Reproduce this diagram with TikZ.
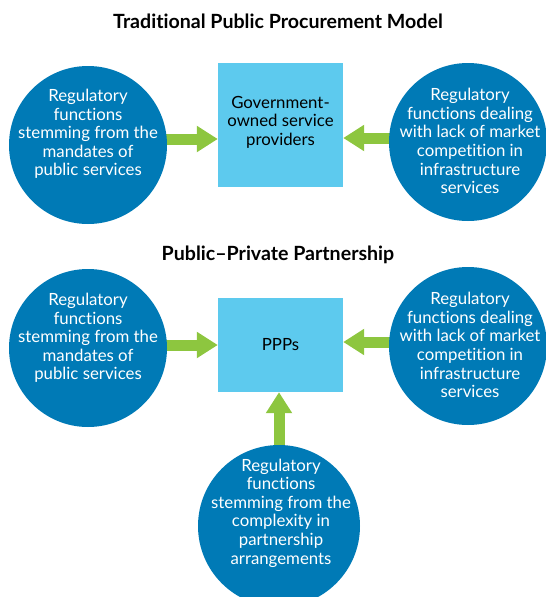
\documentclass[tikz,border=0pt]{standalone}
\usepackage{fontspec}
\setmainfont{Lato}[Ligatures={NoCommon}]
\usetikzlibrary{arrows.meta,backgrounds,calc}
\definecolor{circblue}{RGB}{0,122,182}
\definecolor{boxblue}{RGB}{93,202,238}
\definecolor{arrgreen}{RGB}{141,198,63}
\tikzset{
  circ/.style={circle,fill=circblue,minimum size=158pt,inner sep=0pt},
  ctext/.style={text=white,align=center,font=\fontsize{16.8}{18.6}\selectfont},
  sqbox/.style={rectangle,fill=boxblue,inner sep=0pt},
  btext/.style={text=black,align=center,font=\fontsize{16.8}{18.6}\selectfont},
  ttl/.style={text=black,font=\fontsize{19.6}{22}\selectfont\bfseries},
  garrow/.style={draw=arrgreen,line width=11pt,-{Triangle[length=21pt,width=25pt,fill=arrgreen]}}
}
\begin{document}
\begin{tikzpicture}[x=1pt,y=-1pt]
\useasboundingbox (0,0) rectangle (546,597);
% titles
\node[ttl] (t1) at (278,21) {Traditional Public Procurement Model};
\node[ttl] (t2) at (278,255) {Public–Private Partnership};
% top section
\node[sqbox,minimum width=125pt,minimum height=124pt] (box1) at (280.5,125) {};
\node[btext] (box1t) at (280.5,122) {Government-\\owned service\\providers};
\node[circ] (l1) at (88,145) {};
\node[ctext] (l1t) at (88,134) {Regulatory\\functions\\stemming from the\\mandates of\\public services};
\node[circ] (r1) at (468,142) {};
\node[ctext] (r1t) at (470,141) {Regulatory\\functions dealing\\with lack of market\\competition in\\infrastructure\\services};
% bottom section
\node[sqbox,minimum width=125pt,minimum height=94pt] (box2) at (280.5,345) {};
\node[btext] (box2t) at (280.5,345) {PPPs};
\node[circ] (l2) at (88,348) {};
\node[ctext] (l2t) at (88,338) {Regulatory\\functions\\stemming from the\\mandates of\\public services};
\node[circ] (r2) at (468,346) {};
\node[ctext] (r2t) at (470,345) {Regulatory\\functions dealing\\with lack of market\\competition in\\infrastructure\\services};
\node[circ,minimum size=162pt] (b2) at (279,526) {};
\node[ctext] (b2t) at (281,513) {Regulatory\\functions\\stemming from the\\complexity in\\partnership\\arrangements};
% arrows
\begin{scope}[on background layer]
\draw[garrow] ([yshift=6pt]l1.center) -- ([yshift=6pt]l1.center -| box1.west);
\draw[garrow] ([yshift=4pt]r1.center) -- ([yshift=4pt]r1.center -| box1.east);
\draw[garrow] ([yshift=3pt]l2.center) -- ([yshift=3pt]l2.center -| box2.west);
\draw[garrow] ([yshift=4pt]r2.center) -- ([yshift=4pt]r2.center -| box2.east);
\draw[garrow] (b2.center) -- (b2.center |- box2.south);
\end{scope}
\end{tikzpicture}
\end{document}
